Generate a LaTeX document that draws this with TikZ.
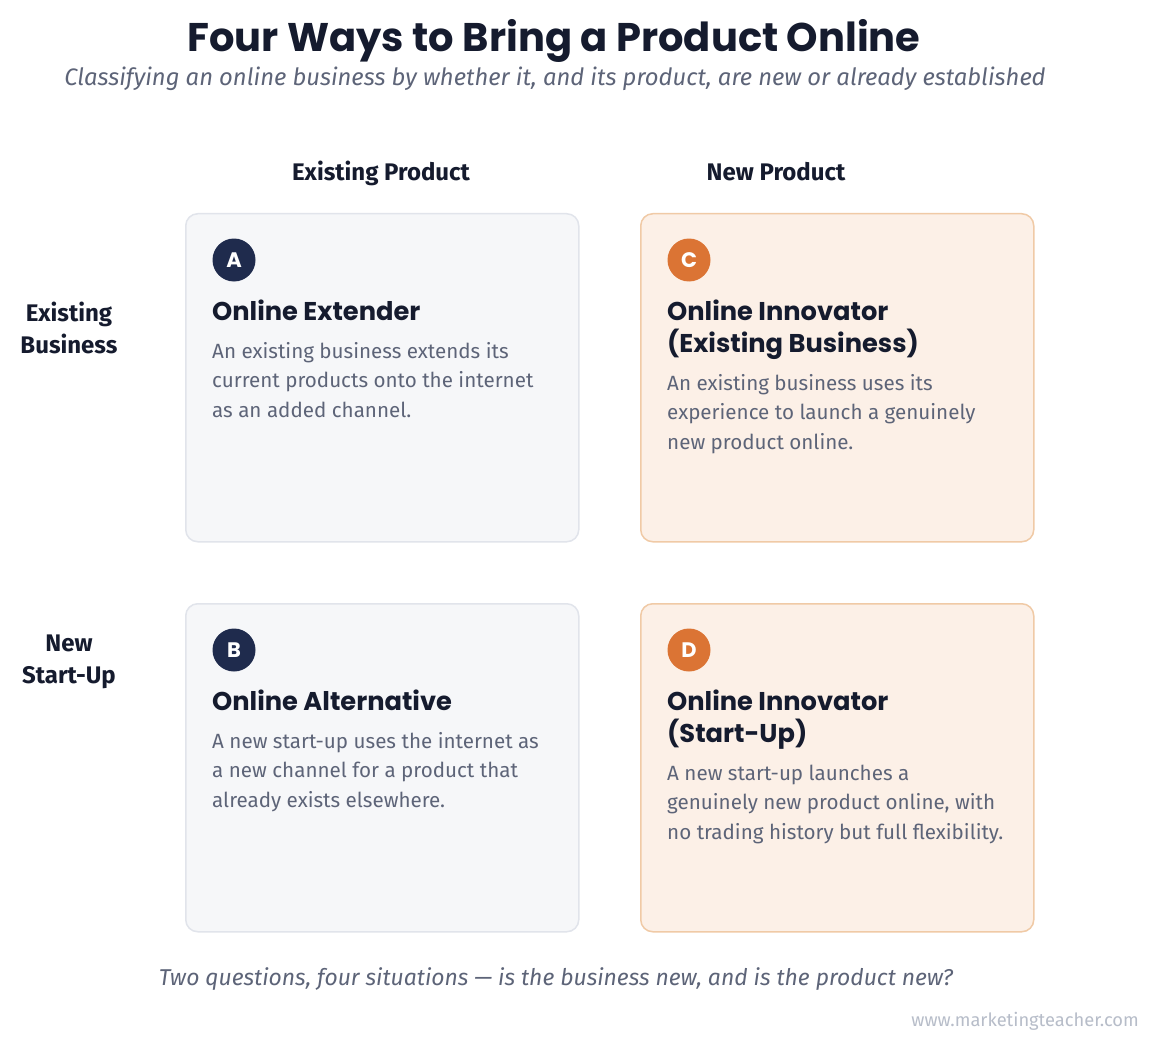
\documentclass[tikz,border=0pt]{standalone}
\usepackage{fontspec}
\setmainfont{Fira Sans}
\newfontfamily\headfont{Poppins}
\definecolor{ink}{HTML}{151B2E}
\definecolor{muted}{HTML}{5D6478}
\definecolor{grayfill}{HTML}{F6F7F9}
\definecolor{grayline}{HTML}{E1E4EB}
\definecolor{orfill}{HTML}{FCF0E7}
\definecolor{orline}{HTML}{F0CAA6}
\definecolor{navy}{HTML}{1F2B4D}
\definecolor{orange}{HTML}{DB7434}
\definecolor{web}{HTML}{B7BDC9}
\tikzset{
  cell/.style={draw, line width=1.5pt, rounded corners=12pt, minimum width=393pt, minimum height=328pt, anchor=north west, inner sep=0pt},
  graycell/.style={cell, fill=grayfill, draw=grayline},
  orcell/.style={cell, fill=orfill, draw=orline},
  badge/.style={circle, minimum size=43pt, inner sep=0pt, text=white, font=\headfont\fontsize{21}{21}\selectfont\bfseries},
  cardtitle/.style={anchor=base west, inner sep=0pt, align=left, text=ink, font=\headfont\fontsize{25.7}{32}\selectfont\bfseries},
  cardbody/.style={anchor=base west, inner sep=0pt, align=left, text=muted, font=\fontsize{20.6}{29.5}\selectfont},
  axis/.style={anchor=base, inner sep=0pt, align=center, text=ink, font=\fontsize{24}{32}\selectfont\bfseries},
}
\begin{document}
\begin{tikzpicture}[x=1pt, y=-1pt]
\useasboundingbox[fill=white] (0,0) rectangle (1159,1051);
\node[anchor=base, inner sep=0pt, text=ink, font=\headfont\fontsize{40}{40}\selectfont\bfseries] (title) at (554,52) {Four Ways to Bring a Product Online};
\node[anchor=base, inner sep=0pt, text=muted, font=\fontsize{23.8}{24}\selectfont\itshape] (subtitle) at (555,86) {Classifying an online business by whether it, and its product, are new or already established};
\node[axis] (colA) at (381,181) {Existing Product};
\node[axis] (colB) at (776,181) {New Product};
\node[axis] (rowA) at (69,353) {Existing\\Business};
\node[axis] (rowB) at (69,683) {New\\Start-Up};
% cells
\node[graycell] (A) at (185,213) {};
\node[orcell] (C) at (640,213) {};
\node[graycell] (B) at (185,603) {};
\node[orcell] (D) at (640,603) {};
% badges
\node[badge, fill=navy] (bA) at (234,260) {A};
\node[badge, fill=orange] (bC) at (689,260) {C};
\node[badge, fill=navy] (bB) at (234,650) {B};
\node[badge, fill=orange] (bD) at (689,650) {D};
% titles
\node[cardtitle] (tA) at (212,320) {Online Extender};
\node[cardtitle] (tC) at (667,352) {Online Innovator\\(Existing Business)};
\node[cardtitle] (tB) at (212,710) {Online Alternative};
\node[cardtitle] (tD) at (667,742) {Online Innovator\\(Start-Up)};
% bodies
\node[cardbody] (dA) at (212,417) {An existing business extends its\\current products onto the internet\\as an added channel.};
\node[cardbody] (dC) at (667,449) {An existing business uses its\\experience to launch a genuinely\\new product online.};
\node[cardbody] (dB) at (212,807) {A new start-up uses the internet as\\a new channel for a product that\\already exists elsewhere.};
\node[cardbody] (dD) at (667,839) {A new start-up launches a\\genuinely new product online, with\\no trading history but full flexibility.};
% footer
\node[anchor=base, inner sep=0pt, text=muted, font=\fontsize{22.9}{23}\selectfont\itshape] (footer) at (556,985) {Two questions, four situations — is the business new, and is the product new?};
\node[anchor=base east, inner sep=0pt, text=web, font=\fontsize{18.3}{18}\selectfont] (site) at (1139,1026) {www.marketingteacher.com};
\end{tikzpicture}
\end{document}
